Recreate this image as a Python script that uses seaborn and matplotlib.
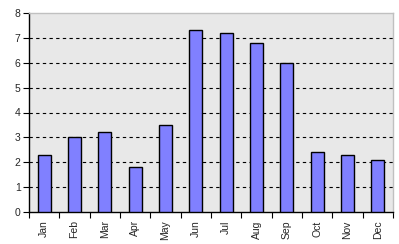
import matplotlib
matplotlib.use("Agg")
import matplotlib.pyplot as plt
import seaborn as sns
import pandas as pd
import numpy as np

months = ["Jan", "Feb", "Mar", "Apr", "May", "Jun", "Jul", "Aug", "Sep", "Oct", "Nov", "Dec"]
values = [2.3, 3.0, 3.2, 1.8, 3.5, 7.3, 7.2, 6.8, 6.0, 2.4, 2.3, 2.1]
yticks = [0, 1, 2, 3, 4, 5, 6, 7, 8]

df = pd.DataFrame({"month": months, "value": values})

sns.set_style("white")
plt.rcParams['font.family'] = ['Liberation Sans', 'DejaVu Sans']

fig = plt.figure(figsize=(3.99, 2.44), dpi=100)
ax = fig.add_axes([29/399, 1 - 212/244, (393 - 29)/399, (212 - 13)/244])
ax.set_facecolor("#E8E8E8")

sns.barplot(data=df, x="month", y="value", color="#8080FF", edgecolor="black",
            linewidth=1.0, width=0.42, saturation=1, ax=ax, zorder=3)

ax.set_ylim(0, 8)
ax.set_xlim(-0.5, len(months) - 0.5)
ax.set_yticks(yticks)
ax.set_yticklabels([str(t) for t in yticks], fontsize=7.5)

for t in yticks[1:-1]:
    ax.axhline(t, color="black", linewidth=0.8, linestyle=(0, (3, 3)), zorder=1)

ax.set_xticks(np.arange(len(months)))
ax.set_xticklabels(months, fontsize=7.5)
for lab in ax.get_xticklabels():
    lab.set_rotation(90)
ax.set_xticks(np.arange(len(months) + 1) - 0.5, minor=True)
ax.tick_params(axis="x", which="major", length=0, pad=6)
ax.tick_params(axis="x", which="minor", length=4, width=0.8, color="black",
               direction="out", bottom=True)
ax.tick_params(axis="y", length=4, width=0.8, color="black", direction="out", pad=2, left=True)

ax.set_xlabel("")
ax.set_ylabel("")

for side in ["left", "bottom"]:
    ax.spines[side].set_color("black")
    ax.spines[side].set_linewidth(1.0)
for side in ["top", "right"]:
    ax.spines[side].set_visible(True)
    ax.spines[side].set_color("#C0C0C0")
    ax.spines[side].set_linewidth(1.0)

fig.savefig("out.png", dpi=100)
